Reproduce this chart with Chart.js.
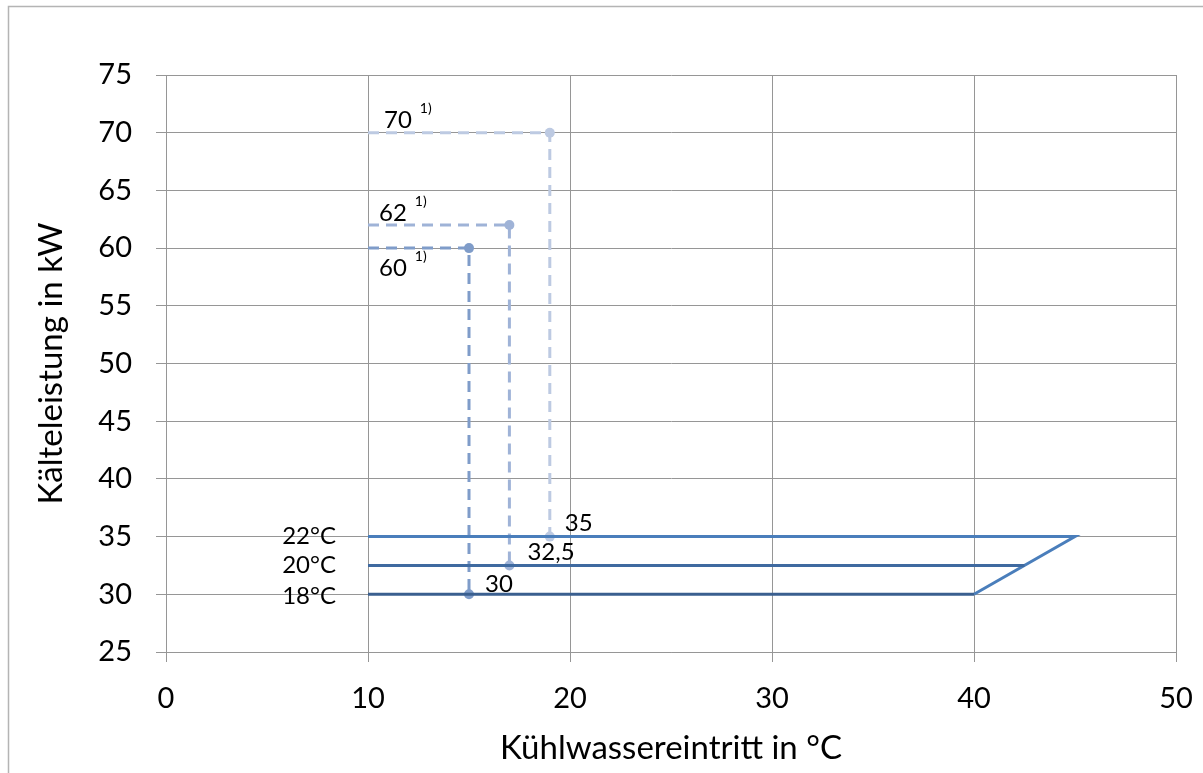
<!DOCTYPE html>
<html>
<head>
<meta charset="utf-8">
<script src="https://cdn.jsdelivr.net/npm/chart.js@4.4.1/dist/chart.umd.min.js"></script>
<style>
  html, body { margin: 0; padding: 0; background: #fff; }
  #wrap { width: 1203px; height: 773px; }
</style>
</head>
<body>
<div id="wrap"><canvas id="chartCanvas" width="1203" height="773"></canvas></div>
<script>
// Kältekurven (solid)
var line22 = [{x: 10, y: 35}, {x: 45, y: 35}, {x: 40, y: 30}];
var line20 = [{x: 10, y: 32.5}, {x: 42.5, y: 32.5}];
var line18 = [{x: 10, y: 30}, {x: 40, y: 30}];

// Betriebspunkte (dashed)
var dash60 = [{x: 10, y: 60}, {x: 15, y: 60}, {x: 15, y: 30}];
var dash62 = [{x: 10, y: 62}, {x: 17, y: 62}, {x: 17, y: 32.5}];
var dash70 = [{x: 10, y: 70}, {x: 19, y: 70}, {x: 19, y: 35}];

var xTicks = [0, 10, 20, 30, 40, 50];
var yTicks = [25, 30, 35, 40, 45, 50, 55, 60, 65, 70, 75];

// text labels, anchored at data points
var labelTexts = ['70', '62', '60', '22°C', '20°C', '18°C', '35', '32,5', '30'];
var labelAnchors = [[10, 70], [10, 62], [10, 60], [10, 35], [10, 32.5], [10, 30], [19, 35], [17, 32.5], [15, 30]];
var footnoteIdx = [0, 1, 2]; // these carry a "1)" footnote

// pixel offsets / alignment for labels (style only)
var labelStyle = [
  {dx: 16, dy: -12, align: 'left'},
  {dx: 11, dy: -12, align: 'left'},
  {dx: 11, dy: 20, align: 'left'},
  {dx: -32, dy: 0, align: 'right'},
  {dx: -32, dy: 0, align: 'right'},
  {dx: -32, dy: 2, align: 'right'},
  {dx: 15, dy: -13, align: 'left'},
  {dx: 18, dy: -13, align: 'left'},
  {dx: 16, dy: -10, align: 'left'}
];

var FONT = 'Lato, "Open Sans", sans-serif';

var frame = {
  id: 'frame',
  beforeDraw: function(chart) {
    var ctx = chart.ctx;
    ctx.save();
    ctx.fillStyle = '#fff';
    ctx.fillRect(0, 0, chart.width, chart.height);
    ctx.strokeStyle = '#b4b4b4';
    ctx.lineWidth = 1.5;
    ctx.strokeRect(8.5, 6.5, chart.width + 10, chart.height + 10);
    ctx.restore();
  }
};

var textLabels = {
  id: 'textLabels',
  afterDatasetsDraw: function(chart) {
    var ctx = chart.ctx;
    var xs = chart.scales.x, ys = chart.scales.y;
    ctx.save();
    ctx.fillStyle = '#000';
    ctx.textBaseline = 'middle';
    labelTexts.forEach(function(t, i) {
      var st = labelStyle[i];
      var px = xs.getPixelForValue(labelAnchors[i][0]) + st.dx;
      var py = ys.getPixelForValue(labelAnchors[i][1]) + st.dy;
      ctx.font = '24px ' + FONT;
      ctx.textAlign = st.align;
      ctx.fillText(t, px, py);
      if (footnoteIdx.indexOf(i) >= 0) {
        var w = ctx.measureText(t).width;
        ctx.font = '14px ' + FONT;
        ctx.textAlign = 'left';
        ctx.fillText('1)', px + w + 8, py - 12);
      }
    });
    ctx.restore();
  }
};

function ds(data, color, dashed, radii) {
  return {
    data: data,
    showLine: true,
    borderColor: color,
    backgroundColor: color,
    borderWidth: 3,
    borderDash: dashed ? [11, 7] : [],
    pointRadius: radii,
    pointHoverRadius: radii,
    pointBorderWidth: 0,
    tension: 0
  };
}

new Chart(document.getElementById('chartCanvas').getContext('2d'), {
  type: 'scatter',
  data: {
    datasets: [
      ds(line18, '#3a5f8f', false, 0),
      ds(line20, '#3f6aa0', false, 0),
      ds(line22, '#4a7ebb', false, 0),
      ds(dash60, '#7f9cc9', true, [0, 5, 5]),
      ds(dash62, '#9fb3d7', true, [0, 5, 5]),
      ds(dash70, '#bdcae2', true, [0, 5, 5])
    ]
  },
  options: {
    responsive: false,
    animation: false,
    layout: {padding: {left: 0, top: 75, right: 27, bottom: 0}},
    plugins: {legend: {display: false}, tooltip: {enabled: false}},
    scales: {
      x: {
        type: 'linear', min: 0, max: 50,
        afterBuildTicks: function(s) { s.ticks = xTicks.map(function(v) { return {value: v}; }); },
        afterFit: function(s) { s.height = 121; s.paddingLeft = 0; s.paddingRight = 0; },
        grid: {color: '#969696', lineWidth: 1, tickLength: 10},
        border: {color: '#969696'},
        ticks: {color: '#000', font: {family: FONT, size: 29}, padding: 19},
        title: {display: true, text: 'Kühlwassereintritt in °C', color: '#000',
                font: {family: FONT, size: 33}, padding: {top: 0, bottom: 5}}
      },
      y: {
        type: 'linear', min: 25, max: 75,
        afterBuildTicks: function(s) { s.ticks = yTicks.map(function(v) { return {value: v}; }); },
        afterFit: function(s) { s.width = 166; s.paddingTop = 0; s.paddingBottom = 0; },
        grid: {color: '#969696', lineWidth: 1, tickLength: 10},
        border: {color: '#969696'},
        ticks: {color: '#000', font: {family: FONT, size: 29}, padding: 24},
        title: {display: true, text: 'Kälteleistung in kW', color: '#000',
                font: {family: FONT, size: 33}, padding: {top: 32, bottom: 0}}
      }
    }
  },
  plugins: [frame, textLabels]
});
</script>
</body>
</html>
